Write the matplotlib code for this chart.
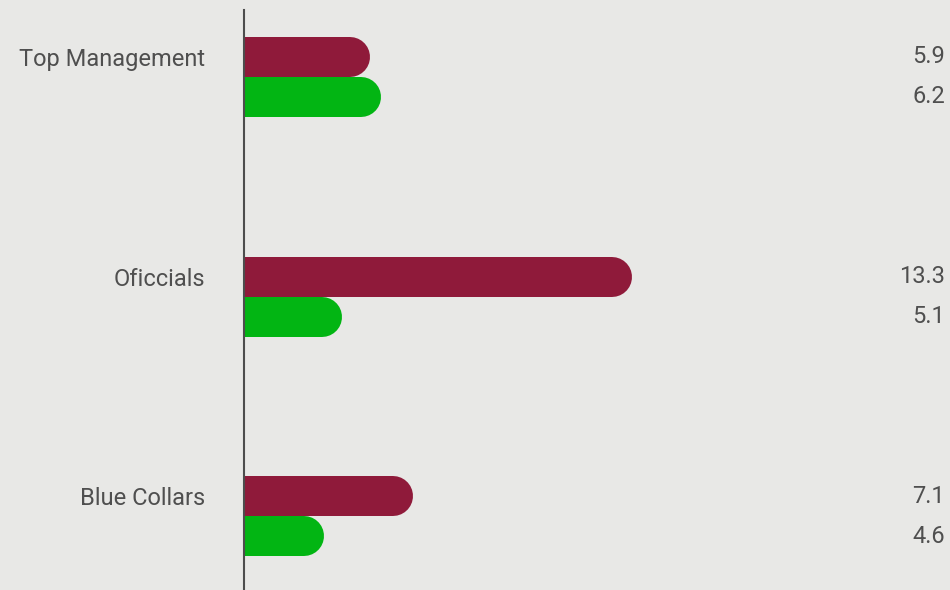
import matplotlib
matplotlib.use("Agg")
import matplotlib.pyplot as plt
from matplotlib.transforms import blended_transform_factory

categories = ["Top Management", "Oficcials", "Blue Collars"]
series_a = [5.9, 13.3, 7.1]   # maroon
series_b = [6.2, 5.1, 4.6]    # green

BG = "#e8e8e6"
MAROON = "#8f1a3a"
GREEN = "#02b513"
TXT = "#4f4f4f"

plt.rcParams["font.family"] = ["Roboto", "DejaVu Sans"]

W, H = 950, 590
fig = plt.figure(figsize=(W / 100, H / 100), dpi=100, facecolor=BG)
ax = fig.add_axes([244 / W, 0, 706 / W, 580 / H], facecolor=BG)

off = 0.0909
lw = 40 * 72 / 100  # 40 px thick bars
ys = list(range(len(categories)))

# start lines left of the axis so the left cap is clipped
ax.hlines([y - off for y in ys], 0, series_a, colors=MAROON, linewidth=lw,
          capstyle="round")
ax.hlines([y + off for y in ys], 0, series_b, colors=GREEN, linewidth=lw,
          capstyle="round")

ax.set_xlim(2.9, 22.85)
ax.set_ylim(2.336, -0.3045)

for s in ["top", "right", "bottom"]:
    ax.spines[s].set_visible(False)
ax.spines["left"].set_color("#4d4d4d")
ax.spines["left"].set_linewidth(1.5)

ax.set_xticks([])
ax.set_yticks([y - off for y in ys])
ax.set_yticklabels(categories, fontsize=17, color=TXT)
ax.tick_params(axis="y", length=0, pad=28)

tr = blended_transform_factory(ax.transAxes, ax.transData)
for y, a, b in zip(ys, series_a, series_b):
    ax.text(0.993, y - off, f"{a:.1f}", transform=tr, ha="right", va="center",
            fontsize=17, color=TXT)
    ax.text(0.993, y + off, f"{b:.1f}", transform=tr, ha="right", va="center",
            fontsize=17, color=TXT)

fig.savefig("out.png", dpi=100, facecolor=BG)
